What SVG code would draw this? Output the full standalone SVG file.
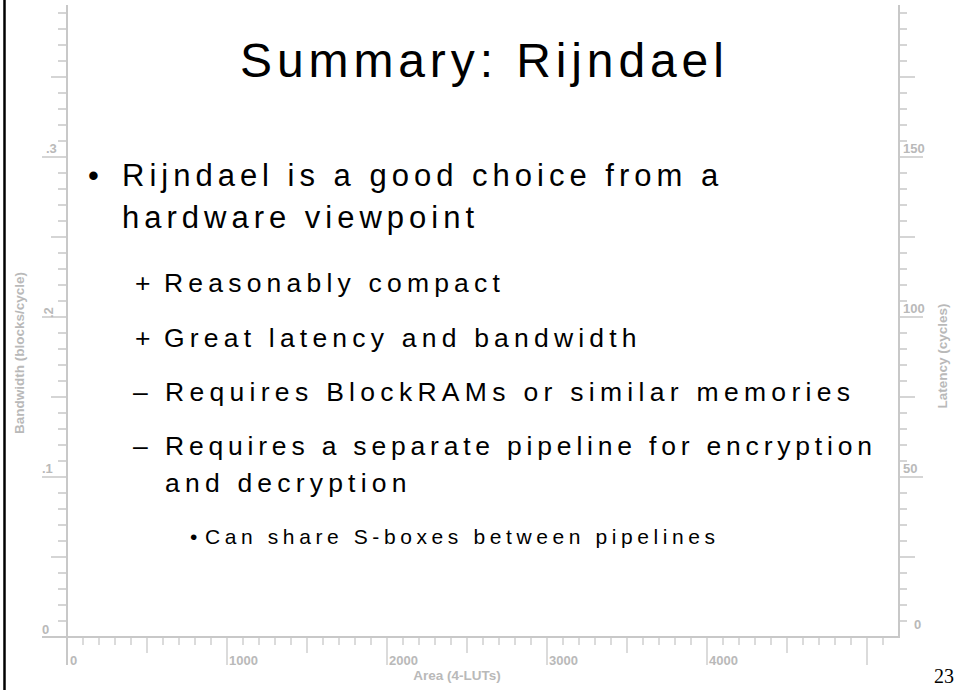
<svg xmlns="http://www.w3.org/2000/svg" width="955" height="690" viewBox="0 0 955 690">
  <style>
    .ax { stroke: #c8c8c8; stroke-width: 2; fill: none; }
    .tk { stroke: #c8c8c8; stroke-width: 1.3; fill: none; }
    .lbl { font-family: "Liberation Sans", Arial, sans-serif; font-weight: bold; font-size: 13px; fill: #b9b9b9; }
    .ttl { font-family: "Liberation Sans", Arial, sans-serif; font-weight: bold; font-size: 13.5px; fill: #b9b9b9; }
    .body { font-family: "Liberation Sans", Arial, sans-serif; fill: #000; }
    .h1 { font-size: 48px; letter-spacing: 4.9px; }
    .l1 { font-size: 31px; letter-spacing: 5px; }
    .l2 { font-size: 26.5px; letter-spacing: 5.2px; }
    .l3 { font-size: 21px; letter-spacing: 4.6px; }
    .fit { letter-spacing: 0; }
  </style>

  <rect width="955" height="690" fill="#fff"/>

  <!-- slide edge on the left -->
  <line x1="4.5" y1="0" x2="4.5" y2="690" stroke="#000" stroke-width="2.5"/>

  <!-- chart frame: bandwidth (left), latency (right), area (bottom) -->
  <g id="axes">
    <path class="ax" d="M67 5V665M899 5V637M42 637H900"/>
    <!-- left axis ticks -->
    <path class="tk" d="M58 621h9M58 605h9M58 589h9M58 573h9M58 541h9M58 525h9M58 509h9M58 493h9M58 461h9M58 445h9M58 429h9M58 413h9M58 381h9M58 365h9M58 349h9M58 333h9M58 301h9M58 285h9M58 269h9M58 253h9M58 221h9M58 205h9M58 189h9M58 173h9M58 141h9M58 125h9M58 109h9M58 93h9M58 61h9M58 45h9M58 29h9M58 13h9"/>
    <path class="tk" d="M51 557h16M51 397h16M51 237h16M51 77h16"/>
    <path class="tk" d="M42 477h25M42 317h25M42 157h25"/>
    <!-- right axis ticks -->
    <path class="tk" d="M899 621h8M899 605h8M899 589h8M899 573h8M899 541h8M899 525h8M899 509h8M899 493h8M899 461h8M899 445h8M899 429h8M899 413h8M899 381h8M899 365h8M899 349h8M899 333h8M899 301h8M899 285h8M899 269h8M899 253h8M899 221h8M899 205h8M899 189h8M899 173h8M899 141h8M899 125h8M899 109h8M899 93h8M899 61h8M899 45h8M899 29h8M899 13h8"/>
    <path class="tk" d="M899 557h16M899 397h16M899 237h16M899 77h16"/>
    <path class="tk" d="M899 477h24M899 317h24M899 157h24"/>
    <!-- bottom axis ticks -->
    <path class="tk" d="M83 637v8M99 637v8M115 637v8M131 637v8M163 637v8M179 637v8M195 637v8M211 637v8M243 637v8M259 637v8M275 637v8M291 637v8M323 637v8M339 637v8M355 637v8M371 637v8M403 637v8M419 637v8M435 637v8M451 637v8M483 637v8M499 637v8M515 637v8M531 637v8M563 637v8M579 637v8M595 637v8M611 637v8M643 637v8M659 637v8M675 637v8M691 637v8M723 637v8M739 637v8M755 637v8M771 637v8M803 637v8M819 637v8M835 637v8M851 637v8M883 637v8"/>
    <path class="tk" d="M147 637v16M307 637v16M467 637v16M627 637v16M787 637v16"/>
    <path class="tk" d="M227 637v28M387 637v28M547 637v28M707 637v28M867 637v28"/>
  </g>

  <g id="axis-labels">
    <text class="lbl" x="46" y="153">.3</text>
    <text class="lbl" transform="translate(53 318) rotate(-90)">.2</text>
    <text class="lbl" x="42" y="473">.1</text>
    <text class="lbl" x="42" y="634">0</text>

    <text class="lbl" x="903" y="153">150</text>
    <text class="lbl" x="903" y="313">100</text>
    <text class="lbl" x="903" y="473">50</text>
    <text class="lbl" x="914" y="629">0</text>

    <text class="lbl" x="70" y="665">0</text>
    <text class="lbl" x="229" y="665">1000</text>
    <text class="lbl" x="389" y="665">2000</text>
    <text class="lbl" x="549" y="665">3000</text>
    <text class="lbl" x="709" y="665">4000</text>

    <text class="ttl" x="457" y="680" text-anchor="middle">Area (4-LUTs)</text>
    <text class="ttl" text-anchor="middle" transform="translate(24 353) rotate(-90)">Bandwidth (blocks/cycle)</text>
    <text class="ttl" text-anchor="middle" transform="translate(947 356) rotate(-90)">Latency (cycles)</text>
  </g>

  <g id="title">
    <text class="body h1" x="240" y="77">Summary: Rijndael</text>
  </g>

  <g id="bullets" class="body">
    <text class="l1" x="88" y="186">•</text>
    <text class="l1" x="122" y="186">Rijndael is a good choice from a</text>
    <text class="l1" x="122" y="228">hardware viewpoint</text>

    <text class="l2" x="135" y="292">+</text>
    <text class="l2" x="164" y="292">Reasonably compact</text>
    <text class="l2" x="135" y="347">+</text>
    <text class="l2" x="164" y="347">Great latency and bandwidth</text>
    <text class="l2" x="133" y="401">–</text>
    <text class="l2 fit" x="165" y="401" textLength="685" lengthAdjust="spacing">Requires BlockRAMs or similar memories</text>
    <text class="l2" x="133" y="455">–</text>
    <text class="l2 fit" x="165" y="455" textLength="707" lengthAdjust="spacing">Requires a separate pipeline for encryption</text>
    <text class="l2" x="165" y="492">and decryption</text>

    <text class="l3" x="190" y="544">•</text>
    <text class="l3" x="205" y="544">Can share S-boxes between pipelines</text>
  </g>

  <text x="934" y="683" font-family="'Liberation Serif', 'Times New Roman', serif" font-size="20" fill="#000">23</text>
</svg>
